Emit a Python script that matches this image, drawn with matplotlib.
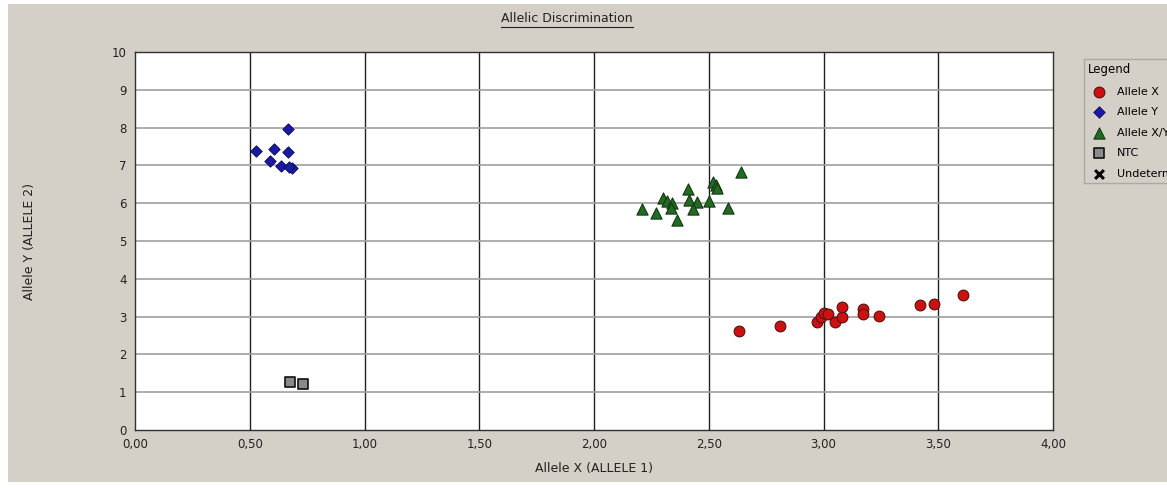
import matplotlib
matplotlib.use('Agg')
import matplotlib.pyplot as plt
from matplotlib.lines import Line2D
from matplotlib.patches import Rectangle

# ---- данные ----
allele_x_x = [2.63, 2.81, 2.97, 2.99, 3.00, 3.02, 3.05, 3.08, 3.08, 3.17, 3.17, 3.24, 3.42, 3.48, 3.61]
allele_x_y = [2.63, 2.75, 2.85, 3.00, 3.10, 3.06, 2.85, 3.00, 3.25, 3.19, 3.07, 3.02, 3.31, 3.33, 3.58]

allele_y_x = [0.665, 0.526, 0.606, 0.665, 0.588, 0.636, 0.684, 0.671]
allele_y_y = [7.96, 7.39, 7.44, 7.36, 7.12, 6.98, 6.94, 6.97]

both_x = [2.64, 2.52, 2.53, 2.535, 2.41, 2.30, 2.32, 2.34, 2.415, 2.45, 2.50, 2.21, 2.27, 2.335, 2.43, 2.36, 2.585]
both_y = [6.82, 6.57, 6.48, 6.39, 6.38, 6.13, 6.07, 6.01, 6.08, 6.04, 6.07, 5.85, 5.75, 5.87, 5.84, 5.56, 5.87]

ntc_x = [0.675, 0.733]
ntc_y = [1.26, 1.23]

undet_x = []
undet_y = []

x_ticks = [0.0, 0.5, 1.0, 1.5, 2.0, 2.5, 3.0, 3.5, 4.0]
y_ticks = list(range(0, 11))

bg = '#d4d0c8'
W, H = 1167, 488

fig = plt.figure(figsize=(W / 100, H / 100), dpi=100, facecolor='white')
# серый фон окна с белой каймой слева/сверху/снизу
fig.patches.append(Rectangle((8 / W, 6 / H), 1 - 8 / W, 1 - 10 / H,
                             transform=fig.transFigure, facecolor=bg, edgecolor='none', zorder=-10))

ax = fig.add_axes([135 / W, 1 - 430 / H, (1053 - 135) / W, (430 - 52) / H])
ax.set_facecolor('white')
ax.set_xlim(0, 4)
ax.set_ylim(0, 10)
ax.set_xticks(x_ticks)
ax.set_yticks(y_ticks)
ax.set_xticklabels([f'{v:.2f}'.replace('.', ',') for v in x_ticks])
ax.set_yticklabels([str(v) for v in y_ticks])
ax.tick_params(length=0, labelsize=8.5, colors='#222222', pad=6)

for v in x_ticks[1:-1]:
    ax.axvline(v, color='#202020', linewidth=1.0, zorder=1)
for v in y_ticks[1:-1]:
    ax.axhline(v, color='#a0a0a0', linewidth=1.2, zorder=1)
for s in ax.spines.values():
    s.set_color('#303030')
    s.set_linewidth(1.0)

ax.scatter(allele_x_x, allele_x_y, marker='o', s=60, color='#cc1111', edgecolors='#551111',
           linewidths=0.8, zorder=3, label='Allele X')
ax.scatter(allele_y_x, allele_y_y, marker='D', s=34, color='#1a1aa0', edgecolors='#0a0a60',
           linewidths=0.6, zorder=3, label='Allele Y')
ax.scatter(both_x, both_y, marker='^', s=65, color='#236b23', edgecolors='#143814',
           linewidths=0.8, zorder=3, label='Allele X/Y')
ax.scatter(ntc_x, ntc_y, marker='s', s=55, color='#8a8a8a', edgecolors='#111111',
           linewidths=1.2, zorder=3, label='NTC')
ax.scatter(undet_x, undet_y, marker='x', s=40, color='black', linewidths=2.2,
           zorder=3, label='Undetermined')

ax.set_xlabel('Allele X (ALLELE 1)', fontsize=9, color='#222222', labelpad=8)
ax.set_ylabel('Allele Y (ALLELE 2)', fontsize=9, color='#222222')
ax.yaxis.set_label_coords((36 - 135) / (1053 - 135), 0.5)

leg = fig.legend(loc='upper left', bbox_to_anchor=(1078 / W, 1 - 53 / H), title='Legend',
                 fontsize=8, title_fontsize=8.5, frameon=True, facecolor=bg, edgecolor='#a0a0a0',
                 fancybox=False, labelspacing=0.95, handletextpad=0.6, borderpad=0.4)
leg._legend_box.align = 'left'

title = fig.text(567 / W, 1 - 19 / H, 'Allelic Discrimination', ha='center', va='center',
                 fontsize=9, color='#222222')
fig.canvas.draw()
bb = title.get_window_extent()
fig.add_artist(Line2D([bb.x0 / W, bb.x1 / W], [(bb.y0 - 1) / H, (bb.y0 - 1) / H],
                      transform=fig.transFigure, color='#222222', linewidth=0.8))

fig.savefig('out.png', dpi=100, facecolor=fig.get_facecolor())
